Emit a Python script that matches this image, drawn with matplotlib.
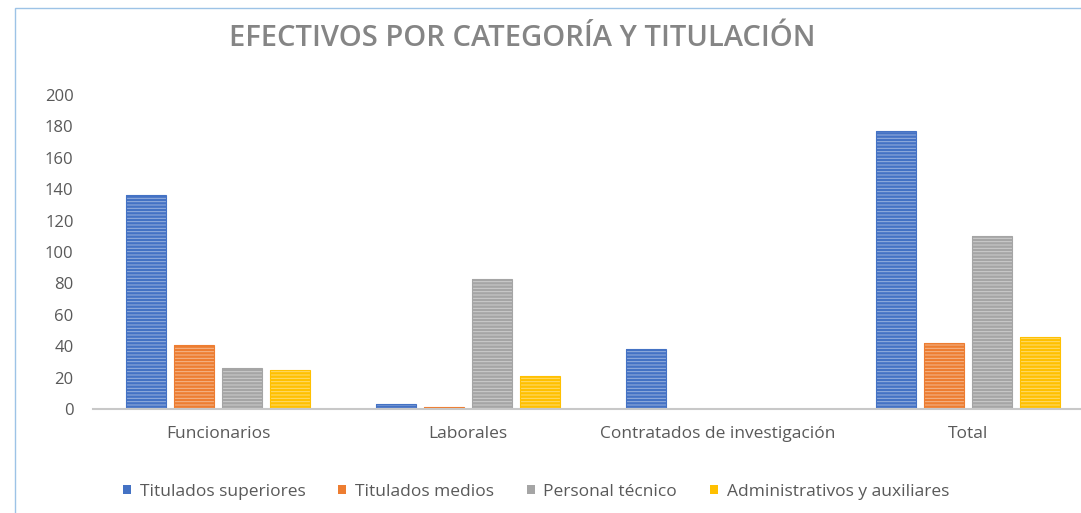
import matplotlib.pyplot as plt
from matplotlib.patches import Rectangle
import numpy as np

# datos
categorias = ["Funcionarios", "Laborales", "Contratados de investigación", "Total"]
series = ["Titulados superiores", "Titulados medios", "Personal técnico",
          "Administrativos y auxiliares"]
titulados_superiores = [136, 3, 38, 177]
titulados_medios = [41, 1, 0, 42]
personal_tecnico = [26, 83, 0, 110]
administrativos = [25, 21, 0, 46]
ticks_y = [0, 20, 40, 60, 80, 100, 120, 140, 160, 180, 200]

colores = ["#4472C4", "#ED7D31", "#A5A5A5", "#FFC000"]
valores = [titulados_superiores, titulados_medios, personal_tecnico, administrativos]

plt.rcParams['font.family'] = ['Open Sans', 'DejaVu Sans']
plt.rcParams['hatch.linewidth'] = 0.7

fig = plt.figure(figsize=(10.81, 5.13), dpi=100)
ax = fig.add_axes([93 / 1081, 104 / 513, 1000 / 1081, 314 / 513])

x = np.arange(len(categorias))
ancho = 0.16
paso = 0.193
for i, (serie, vals, c) in enumerate(zip(series, valores, colores)):
    pos = x + (i - 1.5) * paso
    ax.bar(pos, vals, ancho, color=c, edgecolor=(1, 1, 1, 0.45),
           hatch='-----', linewidth=0, label=serie)
    ax.bar(pos, vals, ancho, facecolor='none', edgecolor=c, linewidth=0.8)

ax.set_xlim(-0.5, 3.5)
ax.set_ylim(0, 200)
ax.set_yticks(ticks_y)
ax.set_xticks(x)
ax.set_xticklabels(categorias)
ax.tick_params(axis='both', length=0, colors='#595959', labelsize=12)
ax.tick_params(axis='x', labelsize=12.5, pad=12)
ax.tick_params(axis='y', pad=14)
for s in ['top', 'right', 'left']:
    ax.spines[s].set_visible(False)
ax.spines['bottom'].set_color('#C8C8C8')
ax.spines['bottom'].set_linewidth(1.5)

fig.text(522 / 1081, 1 - 38 / 513, "EFECTIVOS POR CATEGORÍA Y TITULACIÓN",
         ha='center', va='center', fontsize=21, fontweight='semibold',
         color='#858585')

leg = ax.legend(loc='center', bbox_to_anchor=(536 / 1081, 1 - 492 / 513),
                bbox_transform=fig.transFigure, ncol=4, frameon=False,
                fontsize=12.5, handlelength=0.45, handleheight=0.45,
                handletextpad=0.5, columnspacing=1.9)
for t in leg.get_texts():
    t.set_color('#595959')
for h in leg.legend_handles:
    h.set_hatch(None)

fig.patches.append(Rectangle((15 / 1081, -0.1), 1.2, 0.1 + 505 / 513,
                             transform=fig.transFigure, fill=False,
                             edgecolor='#9DC3E6', linewidth=1))

fig.savefig("out.png", dpi=100)
